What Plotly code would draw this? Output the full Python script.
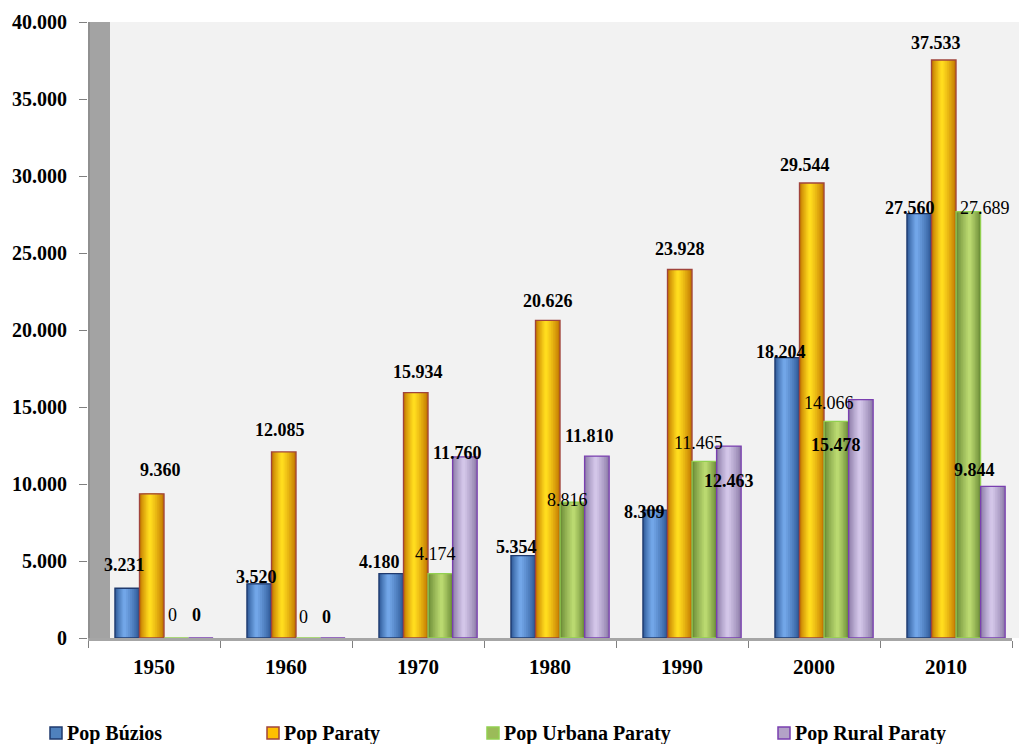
import plotly.graph_objects as go

# ---- data ----
years = ["1950", "1960", "1970", "1980", "1990", "2000", "2010"]
pop_buzios = [3231, 3520, 4180, 5354, 8309, 18204, 27560]
pop_paraty = [9360, 12085, 15934, 20626, 23928, 29544, 37533]
pop_urbana_paraty = [0, 0, 4174, 8816, 11465, 14066, 27689]
pop_rural_paraty = [0, 0, 11760, 11810, 12463, 15478, 9844]

y_tick_vals = [0, 5000, 10000, 15000, 20000, 25000, 30000, 35000, 40000]
y_tick_text = ["0", "5.000", "10.000", "15.000", "20.000", "25.000", "30.000", "35.000", "40.000"]

# ---- styling ----
FONT = "Liberation Serif, Times New Roman, serif"
BAR_W = 0.186     # width of a single bar (category units)
DEPTH = 0.076     # shift of the bar group caused by the 3-D depth

series = [
    dict(name="Pop Búzios", values=pop_buzios, edge="#2D5896", light="#72A6E8",
         outline="#1F3A6E", swatch="#4F81BD", bold=True, hl=0.38),
    dict(name="Pop Paraty", values=pop_paraty, edge="#C27700", light="#FFDC1E",
         outline="#A0443C", swatch="#FFC000", bold=True, hl=0.42),
    dict(name="Pop Urbana Paraty", values=pop_urbana_paraty, edge="#6A8A36", light="#BAD970",
         outline="#92D050", swatch="#9BBB59", bold=False, hl=0.55),
    dict(name="Pop Rural Paraty", values=pop_rural_paraty, edge="#8C7BA8", light="#D3C6E8",
         outline="#7A3FB0", swatch="#B3A2C7", bold=True, hl=0.45),
]

# label nudges in pixels (dx right, dy down) relative to each bar's top centre
label_nudges = [
    [(-3, -23), (-3, -7), (-12, -12), (-7, -9), (-11, 2), (-6, -6), (-9, -6)],
    [(9, -24), (-4, -22), (2, -21), (0, -19), (0, -21), (-7, -18), (-8, -17)],
    [(-4, -23), (-5, -21), (-5, -20), (-5, -2), (-6, -18), (-7, -18), (17, -4)],
    [(-4, -23), (-6, -21), (-7, -4), (-7, -20), (0, 35), (-25, 45), (-18, -16)],
]


def mix(c1, c2, t):
    a = [int(c1[i:i + 2], 16) for i in (1, 3, 5)]
    b = [int(c2[i:i + 2], 16) for i in (1, 3, 5)]
    return "#" + "".join(f"{round(x + (y - x) * t):02x}" for x, y in zip(a, b))


def fmt(v):
    return f"{v:,}".replace(",", ".")


fig = go.Figure()
annotations = []
N_LAYERS = 8

for k, s in enumerate(series):
    left = DEPTH + (k - 2) * BAR_W
    # nested layers give a cylindrical shading
    for j in range(N_LAYERS):
        f = 1 - j / N_LAYERS
        t = j / (N_LAYERS - 1)
        fig.add_trace(go.Bar(
            x=years, y=s["values"],
            width=f * BAR_W,
            offset=left + s["hl"] * (1 - f) * BAR_W,
            marker=dict(color=mix(s["edge"], s["light"], t ** 0.8), line=dict(width=0)),
            showlegend=False, hoverinfo="skip",
        ))
    # outline
    fig.add_trace(go.Bar(
        x=years, y=s["values"], width=BAR_W, offset=left,
        marker=dict(color="rgba(0,0,0,0)", line=dict(color=s["outline"], width=1.3)),
        showlegend=False, name=s["name"],
    ))
    centre = DEPTH + (k - 1.5) * BAR_W
    for i, v in enumerate(s["values"]):
        dx, dy = label_nudges[k][i]
        annotations.append(dict(
            x=i + centre, y=v, xref="x", yref="y", text=fmt(v), showarrow=False,
            xanchor="center", yanchor="middle", xshift=dx, yshift=-dy,
            font=dict(family=FONT, size=18, color="black",
                      weight="bold" if s["bold"] else "normal"),
        ))

# legend drawn along the bottom
PLOT_L, PLOT_W, PLOT_B, PLOT_H = 88, 924, 638, 616


def px_x(p):
    return (p - PLOT_L) / PLOT_W


def px_y(p):
    return (PLOT_B - p) / PLOT_H


shapes = [
    # back wall
    dict(type="rect", xref="paper", yref="paper", x0=px_x(110), x1=px_x(1019), y0=0, y1=1,
         fillcolor="#F2F2F2", line=dict(width=0), layer="below"),
    # side wall
    dict(type="rect", xref="paper", yref="paper", x0=0, x1=px_x(110), y0=0, y1=1,
         fillcolor="#A3A3A3", line=dict(width=0), layer="below"),
    dict(type="line", xref="paper", yref="paper", x0=px_x(89), x1=px_x(89), y0=0, y1=1,
         line=dict(color="#8A8A8A", width=1.5), layer="below"),
]

legend_x = [50, 267, 487, 778]
LEG_Y = 733
for s, lx in zip(series, legend_x):
    shapes.append(dict(type="rect", xref="paper", yref="paper",
                       x0=px_x(lx), x1=px_x(lx + 12), y0=px_y(LEG_Y + 6), y1=px_y(LEG_Y - 6),
                       fillcolor=s["swatch"], line=dict(color=s["outline"], width=1.5)))
    annotations.append(dict(
        x=px_x(lx + 15), y=px_y(LEG_Y), xref="paper", yref="paper", text=s["name"],
        showarrow=False, xanchor="left", yanchor="middle",
        font=dict(family=FONT, size=20, color="black", weight="bold"),
    ))

fig.update_layout(
    width=1019, height=744, autosize=False,
    margin=dict(l=PLOT_L, r=1019 - PLOT_L - PLOT_W, t=PLOT_B - PLOT_H, b=744 - PLOT_B),
    paper_bgcolor="white", plot_bgcolor="rgba(0,0,0,0)",
    barmode="overlay", showlegend=False,
    shapes=shapes, annotations=annotations,
    xaxis=dict(
        type="category", range=[-0.5, 6.5], tickson="boundaries",
        ticks="outside", ticklen=7, tickcolor="#808080", tickwidth=1,
        showline=True, linecolor="#A6A6A6", linewidth=3,
        showgrid=False, zeroline=False, ticklabelstandoff=8,
        tickfont=dict(family=FONT, size=21, color="black", weight="bold"),
    ),
    yaxis=dict(
        range=[0, 40000], tickvals=y_tick_vals, ticktext=y_tick_text,
        ticks="outside", ticklen=8, tickcolor="#808080", tickwidth=1,
        showline=False, showgrid=False, zeroline=False, ticklabelstandoff=8,
        tickfont=dict(family=FONT, size=20, color="black", weight="bold"),
    ),
)

fig.write_html("out.html")
